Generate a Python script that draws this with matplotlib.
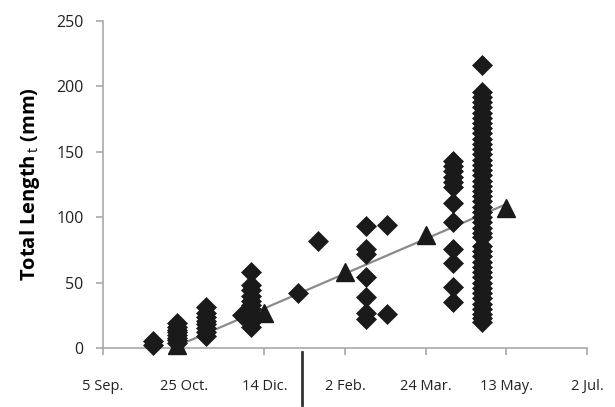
import matplotlib.pyplot as plt
from matplotlib.lines import Line2D

plt.rcParams['font.family'] = ['Open Sans', 'DejaVu Sans']
plt.rcParams['mathtext.fontset'] = 'custom'
plt.rcParams['mathtext.rm'] = 'Open Sans'

# days counted from 5 Sep.
tick_days = [0, 50, 100, 150, 200, 250, 300]
tick_labels = ['5 Sep.', '25 Oct.', '14 Dic.', '2 Feb.', '24 Mar.', '13 May.', '2 Jul.']

# individual lengths (diamonds), one list per sampling day
samples = {
    31: [2, 5],
    46: [19, 16, 14, 12, 10, 8, 6, 4],
    64: [31, 27, 24, 21, 18, 15, 12, 9],
    86: [25],
    92: [58, 48, 44, 40, 36, 33, 30, 27, 24, 20, 16],
    121: [42],
    133: [82],
    163: [93, 76, 72, 54, 39, 27, 22],
    176: [94, 26],
    217: [143, 139, 135, 131, 127, 123, 111, 96, 76, 65, 47, 35],
    235: [216, 196, 192, 188, 184, 180, 176, 172, 168, 164, 160, 156, 152,
          148, 144, 140, 136, 132, 128, 124, 120, 116, 112, 108, 104, 100,
          96, 92, 88, 85, 78, 74, 70, 66, 62, 58, 54, 50, 46, 42, 38,
          34, 30, 26, 23, 20],
}

# mean lengths (triangles)
mean_days = [46, 100, 150, 200, 250]
mean_len = [2, 27, 58, 86, 107]

# growth line
trend_days = [43, 250]
trend_len = [0, 110]

fig = plt.figure(figsize=(6.15, 4.07), dpi=100)
ax = fig.add_axes([0.1675, 0.145, 0.787, 0.8035])

ax.plot(trend_days, trend_len, color='#8a8a8a', lw=1.6, zorder=2)

for d, vals in samples.items():
    ax.plot([d] * len(vals), vals, 'D', color='#1a1a1a', ms=10.5, mec='#1a1a1a',
            mew=0.5, ls='none', clip_on=False, zorder=3)

ax.plot(mean_days, mean_len, '^', color='#1a1a1a', ms=12.5, ls='none',
        clip_on=False, zorder=4)

ax.set_xlim(0, 300)
ax.set_ylim(0, 250)
ax.set_xticks(tick_days)
ax.set_xticklabels(tick_labels)
ax.set_yticks([0, 50, 100, 150, 200, 250])

for s in ['top', 'right']:
    ax.spines[s].set_visible(False)
for s in ['left', 'bottom']:
    ax.spines[s].set_color('#a8a8a8')
    ax.spines[s].set_linewidth(1.2)

ax.tick_params(axis='x', length=5, width=1.2, color='#a8a8a8', pad=17,
               labelsize=10.5, labelcolor='#222222')
ax.tick_params(axis='y', length=5, width=1.2, color='#a8a8a8', pad=9,
               labelsize=11.5, labelcolor='#222222')

ax.set_ylabel(r'Total Length$_{\mathrm{\,t}}$ (mm)', fontsize=14.5,
              fontweight='bold', labelpad=10)

# dark mark below the axis
fig.add_artist(Line2D([302 / 615, 302 / 615], [1 - 352 / 407, 1 - 405 / 407],
                      color='#333333', lw=2))

fig.savefig('out.png', dpi=100)
